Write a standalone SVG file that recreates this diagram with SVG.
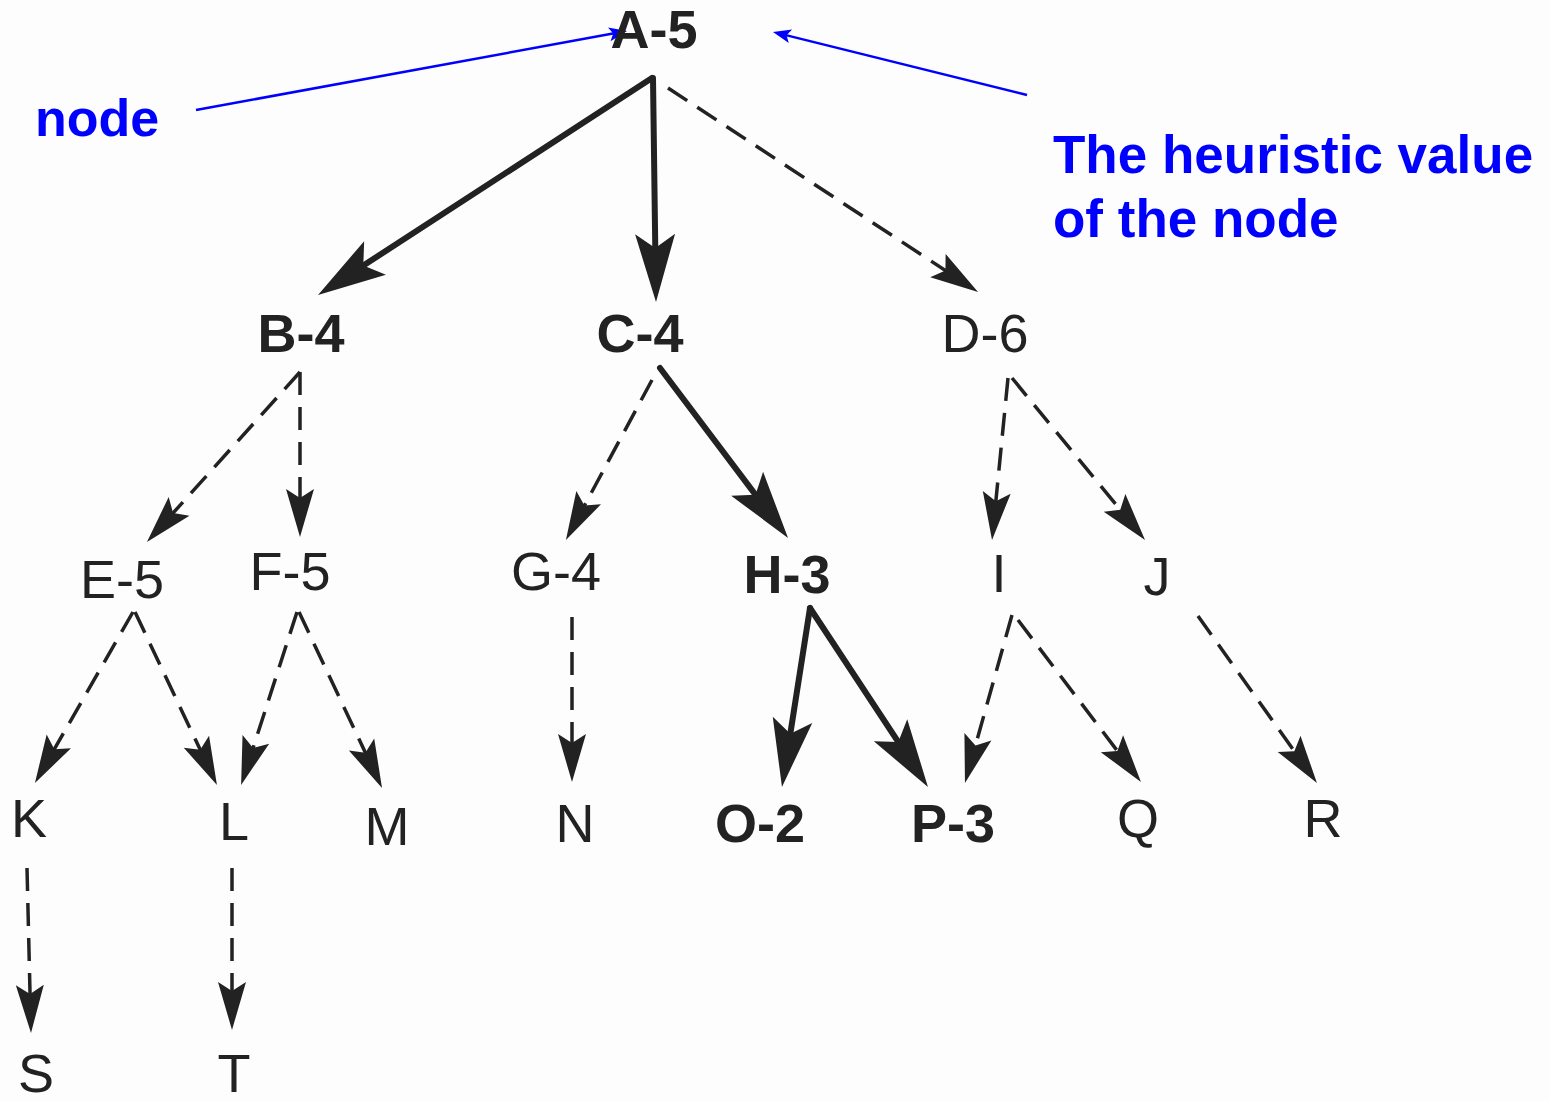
<svg xmlns="http://www.w3.org/2000/svg" width="1550" height="1101" viewBox="0 0 1550 1101">
<style>
.lbl{font-family:"Liberation Sans",Arial,sans-serif;font-size:54px;fill:#222;text-anchor:middle}
.b{font-weight:bold}
.note{font-family:"Liberation Sans",Arial,sans-serif;font-size:53px;font-weight:bold;fill:#0000ff}
.solid{stroke:#222;stroke-width:6;fill:none;stroke-linecap:round}
.dash{stroke:#222;stroke-width:3.5;fill:none;stroke-dasharray:23 12}
.blue{stroke:#0000ff;stroke-width:2.5;fill:none}
</style>
<defs>
<marker id="hb" markerUnits="userSpaceOnUse" markerWidth="100" markerHeight="100" refX="0" refY="0" orient="auto" overflow="visible">
<path d="M15,0 L-53,-20 L-39,0 L-53,20 Z" fill="#222"/>
</marker>
<marker id="hd" markerUnits="userSpaceOnUse" markerWidth="100" markerHeight="100" refX="0" refY="0" orient="auto" overflow="visible">
<path d="M12,0 L-36,-14 L-27,0 L-36,14 Z" fill="#222"/>
</marker>
<marker id="hblue" markerUnits="userSpaceOnUse" markerWidth="40" markerHeight="40" refX="0" refY="0" orient="auto" overflow="visible">
<path d="M6,0 L-12,-7 L-8,0 L-12,7 Z" fill="#0000ff"/>
</marker>
</defs>
<rect width="1550" height="1101" fill="#fdfdfd"/>
<g id="connectors">
<line class="solid" x1="652" y1="78" x2="330.6" y2="286.8" marker-end="url(#hb)"/>
<line class="solid" x1="653" y1="78" x2="655.8" y2="287" marker-end="url(#hb)"/>
<line class="solid" x1="660" y1="368" x2="779" y2="526" marker-end="url(#hb)"/>
<line class="solid" x1="810" y1="608" x2="784.3" y2="772.2" marker-end="url(#hb)"/>
<line class="solid" x1="810" y1="608" x2="919.7" y2="774.5" marker-end="url(#hb)"/>
<line class="dash" x1="668" y1="88" x2="968" y2="285.4" marker-end="url(#hd)"/>
<line class="dash" x1="300" y1="372" x2="155" y2="533.1" marker-end="url(#hd)"/>
<line class="dash" x1="300" y1="372" x2="300" y2="525" marker-end="url(#hd)"/>
<line class="dash" x1="652" y1="380" x2="571.6" y2="529.4" marker-end="url(#hd)"/>
<line class="dash" x1="1008" y1="378" x2="993.2" y2="528.1" marker-end="url(#hd)"/>
<line class="dash" x1="1012" y1="378" x2="1137.4" y2="530.7" marker-end="url(#hd)"/>
<line class="dash" x1="133" y1="612" x2="40.9" y2="772.6" marker-end="url(#hd)"/>
<line class="dash" x1="135" y1="612" x2="211.8" y2="774.2" marker-end="url(#hd)"/>
<line class="dash" x1="297" y1="612" x2="244.8" y2="773.6" marker-end="url(#hd)"/>
<line class="dash" x1="299" y1="612" x2="376.9" y2="777.1" marker-end="url(#hd)"/>
<line class="dash" x1="572" y1="617" x2="572" y2="770" marker-end="url(#hd)"/>
<line class="dash" x1="1012" y1="615" x2="968.2" y2="771.4" marker-end="url(#hd)"/>
<line class="dash" x1="1018" y1="620" x2="1133.7" y2="772.4" marker-end="url(#hd)"/>
<line class="dash" x1="1198" y1="616" x2="1310" y2="773.2" marker-end="url(#hd)"/>
<line class="dash" x1="27" y1="868" x2="30.7" y2="1021" marker-end="url(#hd)"/>
<line class="dash" x1="232" y1="868" x2="232" y2="1018" marker-end="url(#hd)"/>
<line class="blue" x1="196" y1="110" x2="621.1" y2="32.1" marker-end="url(#hblue)"/>
<line class="blue" x1="1027" y1="95" x2="778.8" y2="33.4" marker-end="url(#hblue)"/>
</g>
<g id="node-A"><text class="lbl b" x="654" y="48">A-5</text></g>
<g id="node-B"><text class="lbl b" x="301" y="352">B-4</text></g>
<g id="node-C"><text class="lbl b" x="640" y="352">C-4</text></g>
<g id="node-D"><text class="lbl" x="985" y="352">D-6</text></g>
<g id="node-E"><text class="lbl" x="122" y="598">E-5</text></g>
<g id="node-F"><text class="lbl" x="290" y="590">F-5</text></g>
<g id="node-G"><text class="lbl" x="556" y="590">G-4</text></g>
<g id="node-H"><text class="lbl b" x="787" y="593">H-3</text></g>
<g id="node-I"><text class="lbl" x="999" y="592">I</text></g>
<g id="node-J"><text class="lbl" x="1157" y="595">J</text></g>
<g id="node-K"><text class="lbl" x="29" y="837">K</text></g>
<g id="node-L"><text class="lbl" x="234" y="840">L</text></g>
<g id="node-M"><text class="lbl" x="387" y="845">M</text></g>
<g id="node-N"><text class="lbl" x="575" y="842">N</text></g>
<g id="node-O"><text class="lbl b" x="760" y="842">O-2</text></g>
<g id="node-P"><text class="lbl b" x="953" y="842">P-3</text></g>
<g id="node-Q"><text class="lbl" x="1138" y="837">Q</text></g>
<g id="node-R"><text class="lbl" x="1323" y="837">R</text></g>
<g id="node-S"><text class="lbl" x="36" y="1092">S</text></g>
<g id="node-T"><text class="lbl" x="234" y="1092">T</text></g>
<g id="note-node"><text class="note" x="35" y="136" style="font-size:52px">node</text></g>
<g id="note-heuristic"><text class="note" x="1053" y="173">The heuristic value</text><text class="note" x="1053" y="237">of the node</text></g>
</svg>
